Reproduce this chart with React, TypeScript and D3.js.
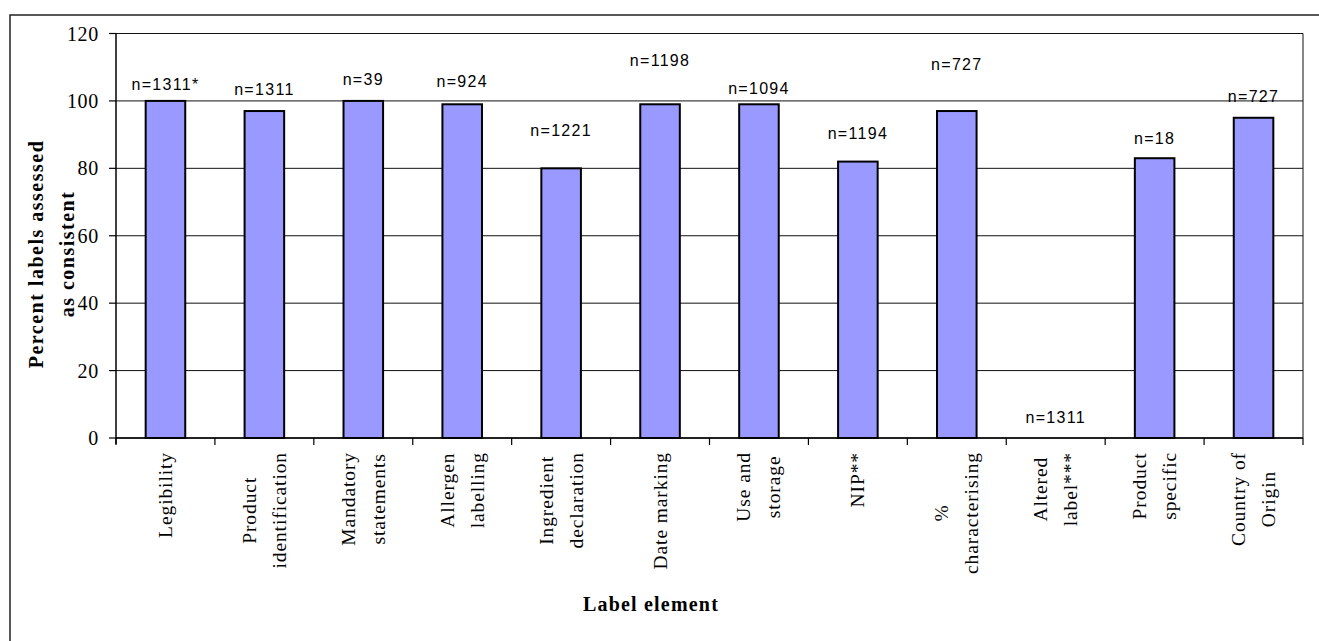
import React, { useMemo } from "react";
import * as d3 from "d3";

// Label elements (multi-line category names as drawn under the axis)
const categories: string[][] = [
  ["Legibility"],
  ["Product", "identification"],
  ["Mandatory", "statements"],
  ["Allergen", "labelling"],
  ["Ingredient", "declaration"],
  ["Date marking"],
  ["Use and", "storage"],
  ["NIP**"],
  ["%", "characterising"],
  ["Altered", "label***"],
  ["Product", "specific"],
  ["Country of", "Origin"],
];

// Percent of labels assessed as consistent
const percentConsistent = [100, 97, 100, 99, 80, 99, 99, 82, 97, 0, 83, 95];

// Sample size notes
const sampleNotes = [
  "n=1311*", "n=1311", "n=39", "n=924", "n=1221", "n=1198",
  "n=1094", "n=1194", "n=727", "n=1311", "n=18", "n=727",
];

// Level (in percent units) at which each sample note is centred
const noteLevel = [104.9, 103.5, 106.4, 105.8, 91.3, 112, 103.7, 90.5, 111, 6.2, 89, 101.3];

const yTicks = [0, 20, 40, 60, 80, 100, 120];

const W = 1319;
const H = 641;
const plot = { left: 116, right: 1303, top: 33.5, bottom: 438 };

const catFont = "Liberation Serif, Times New Roman, serif";
const catSize = 19.5;
const catSpacing = 0.9;
const catLineGap = 30;

function measure(text: string, font: string, spacing: number): number {
  const canvas = document.createElement("canvas");
  const ctx = canvas.getContext("2d");
  if (!ctx) return text.length * 9;
  ctx.font = font;
  return ctx.measureText(text).width + spacing * text.length;
}

export default function App() {
  const x = d3
    .scaleBand<number>()
    .domain(d3.range(categories.length))
    .range([plot.left, plot.right])
    .padding(0);
  const y = d3.scaleLinear().domain([0, 120]).range([plot.bottom, plot.top]);
  const barW = x.bandwidth() * 0.4;

  const blockLens = useMemo(
    () =>
      categories.map((lines) =>
        Math.max(...lines.map((l) => measure(l, `${catSize}px ${catFont}`, catSpacing)))
      ),
    []
  );

  const boundaries = d3.range(categories.length + 1).map((i) =>
    i < categories.length ? (x(i) as number) : plot.right
  );

  return (
    <div style={{ position: "fixed", left: 0, top: 0, width: W, height: H, background: "#fff" }}>
      <svg width={W} height={H} style={{ display: "block" }}>
        <rect x={0} y={0} width={W} height={H} fill="#fff" />
        {/* outer chart frame */}
        <rect
          x={10}
          y={15}
          width={W + 20}
          height={H + 20}
          fill="none"
          stroke="#222"
          strokeWidth={1.5}
        />

        {/* gridlines */}
        {yTicks.map((t) => (
          <line
            key={"g" + t}
            x1={plot.left}
            x2={plot.right}
            y1={y(t)}
            y2={y(t)}
            stroke="#111"
            strokeWidth={1}
          />
        ))}
        {/* plot frame */}
        <line x1={plot.right} x2={plot.right} y1={plot.top} y2={plot.bottom} stroke="#111" strokeWidth={1} />

        {/* bars */}
        {percentConsistent.map((v, i) => {
          const cx = (x(i) as number) + x.bandwidth() / 2;
          if (v <= 0) return null;
          return (
            <rect
              key={"b" + i}
              x={cx - barW / 2}
              y={y(v)}
              width={barW}
              height={y(0) - y(v)}
              fill="#9999FF"
              stroke="#000"
              strokeWidth={2}
            />
          );
        })}

        {/* y axis */}
        <line x1={plot.left} x2={plot.left} y1={plot.top} y2={plot.bottom + 6} stroke="#000" strokeWidth={1.5} />
        {yTicks.map((t) => (
          <g key={"yt" + t}>
            <line x1={plot.left - 7} x2={plot.left} y1={y(t)} y2={y(t)} stroke="#000" strokeWidth={1.2} />
            <text
              x={99}
              y={y(t) + 7}
              textAnchor="end"
              fontFamily={catFont}
              fontSize={20}
              letterSpacing={0.7}
              fill="#000"
            >
              {t}
            </text>
          </g>
        ))}

        {/* x axis */}
        <line x1={plot.left} x2={plot.right} y1={plot.bottom} y2={plot.bottom} stroke="#000" strokeWidth={1.5} />
        {boundaries.map((bx, i) => (
          <line key={"xt" + i} x1={bx} x2={bx} y1={plot.bottom} y2={plot.bottom + 7} stroke="#000" strokeWidth={1.2} />
        ))}

        {/* sample size notes */}
        {sampleNotes.map((n, i) => {
          const cx = (x(i) as number) + x.bandwidth() / 2;
          return (
            <text
              key={"n" + i}
              x={cx}
              y={y(noteLevel[i]) + 5.8}
              textAnchor="middle"
              fontFamily="Liberation Sans, Arial, sans-serif"
              fontSize={16}
              letterSpacing={1.3}
              fill="#000"
            >
              {n}
            </text>
          );
        })}

        {/* category labels, rotated */}
        {categories.map((lines, i) => {
          const cx = (x(i) as number) + x.bandwidth() / 2;
          const len = blockLens[i];
          return (
            <g key={"c" + i} transform={`translate(${cx},452) rotate(-90)`}>
              {lines.map((l, j) => (
                <text
                  key={j}
                  x={-len / 2}
                  y={(j - (lines.length - 1) / 2) * catLineGap + 6.5}
                  textAnchor="middle"
                  fontFamily={catFont}
                  fontSize={catSize}
                  letterSpacing={catSpacing}
                  fill="#000"
                >
                  {l}
                </text>
              ))}
            </g>
          );
        })}

        {/* axis titles */}
        <g transform="translate(0,254) rotate(-90)">
          <text
            x={0}
            y={42.5}
            textAnchor="middle"
            fontFamily={catFont}
            fontWeight="bold"
            fontSize={20}
            letterSpacing={1.5}
            fill="#000"
          >
            Percent labels assessed
          </text>
          <text
            x={0}
            y={74}
            textAnchor="middle"
            fontFamily={catFont}
            fontWeight="bold"
            fontSize={20}
            letterSpacing={1.5}
            fill="#000"
          >
            as consistent
          </text>
        </g>
        <text
          x={651}
          y={611}
          textAnchor="middle"
          fontFamily={catFont}
          fontWeight="bold"
          fontSize={20}
          letterSpacing={1.2}
          fill="#000"
        >
          Label element
        </text>
      </svg>
    </div>
  );
}
